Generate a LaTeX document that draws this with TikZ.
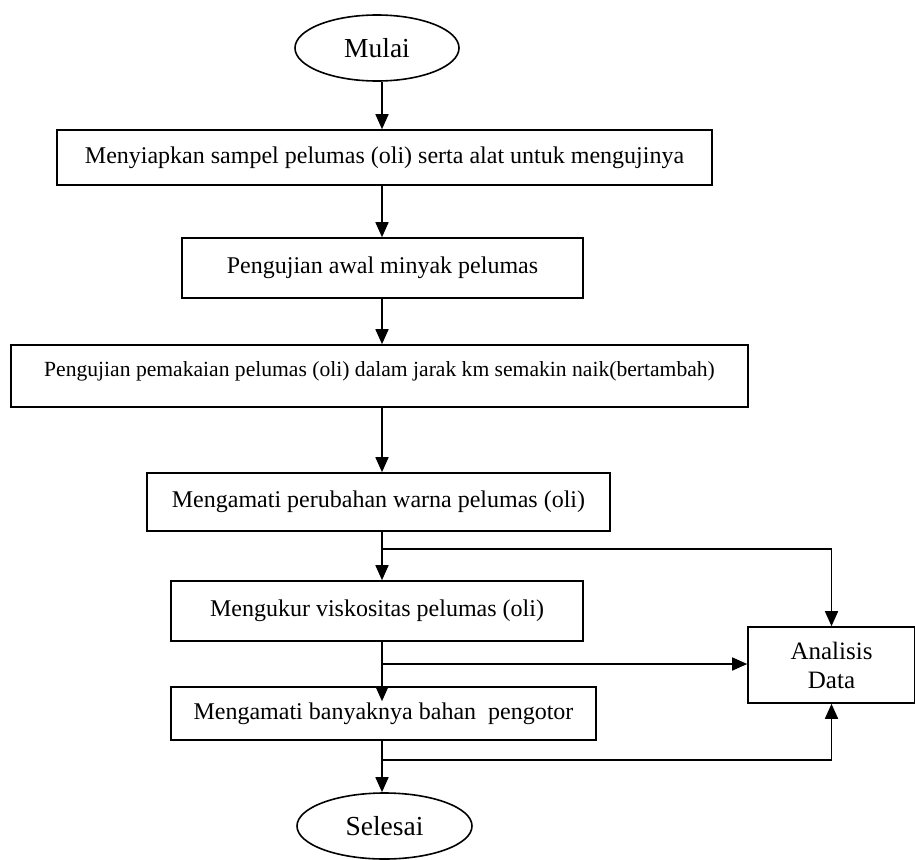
\documentclass[tikz,border=0pt]{standalone}
\usepackage{fontspec}
\setmainfont{Liberation Serif}
\usetikzlibrary{shapes,arrows.meta,positioning}

\begin{document}
\begin{tikzpicture}[x=1pt, y=-1pt,
  proses/.style={draw, line width=1.6pt, inner sep=0pt, font=\fontsize{24}{28}\selectfont},
  ujung/.style={draw, ellipse, line width=1.6pt, inner sep=0pt, font=\fontsize{27.5}{32}\selectfont},
  alur/.style={line width=1.6pt, -{Triangle[length=15pt, width=13pt]}}]
\useasboundingbox (0,0) rectangle (915,859);

\coordinate (spine) at (382, 0);
\coordinate (c_a) at (382, 549);
\coordinate (c_b) at (382, 664);
\coordinate (c_c) at (382, 760);

\node [ujung, minimum width=164pt, minimum height=66pt] (mulai) at (377, 48) {Mulai};
\node [proses, minimum width=655pt, minimum height=55pt] (siap) at (384.5, 157.5) {Menyiapkan sampel pelumas (oli) serta alat untuk mengujinya};
\node [proses, minimum width=401pt, minimum height=60pt] (awal) at (382.5, 268) {Pengujian awal minyak pelumas};
\node [proses, minimum width=737pt, minimum height=62pt, text depth=14pt, font=\fontsize{21.6}{25}\selectfont] (pakai) at (379.5, 376) {Pengujian pemakaian pelumas (oli) dalam jarak km semakin naik(bertambah)};
\node [proses, minimum width=463pt, minimum height=58pt] (warna) at (378.5, 502) {Mengamati perubahan warna pelumas (oli)};
\node [proses, minimum width=412pt, minimum height=60pt] (visko) at (377, 611) {Mengukur viskositas pelumas (oli)};
\node [proses, minimum width=425pt, minimum height=53pt] (kotor) at (383.5, 713.5) {Mengamati banyaknya bahan\ \ pengotor};
\node [proses, minimum width=167pt, minimum height=76pt, align=center, font=\fontsize{25}{29}\selectfont] (analisis) at (831.5, 665) {Analisis\\Data};
\node [ujung, minimum width=175pt, minimum height=66pt] (selesai) at (384.5, 826) {Selesai};

% alur utama
\draw [alur] (mulai.south -| spine) -- (siap.north -| spine);
\draw [alur] (siap.south -| spine) -- (awal.north -| spine);
\draw [alur] (awal.south -| spine) -- (pakai.north -| spine);
\draw [alur] (pakai.south -| spine) -- (warna.north -| spine);
\draw [alur] (warna.south -| spine) -- (visko.north -| spine);
\draw [alur, shorten >=-15pt] (visko.south -| spine) -- (kotor.north -| spine);
\draw [alur] (kotor.south -| spine) -- (selesai.north -| spine);

% ke analisis
\draw [alur] (c_a) -| (analisis.north);
\draw [alur] (c_b) -- (c_b -| analisis.west);
\draw [alur] (c_c) -| (analisis.south);
\end{tikzpicture}
\end{document}
